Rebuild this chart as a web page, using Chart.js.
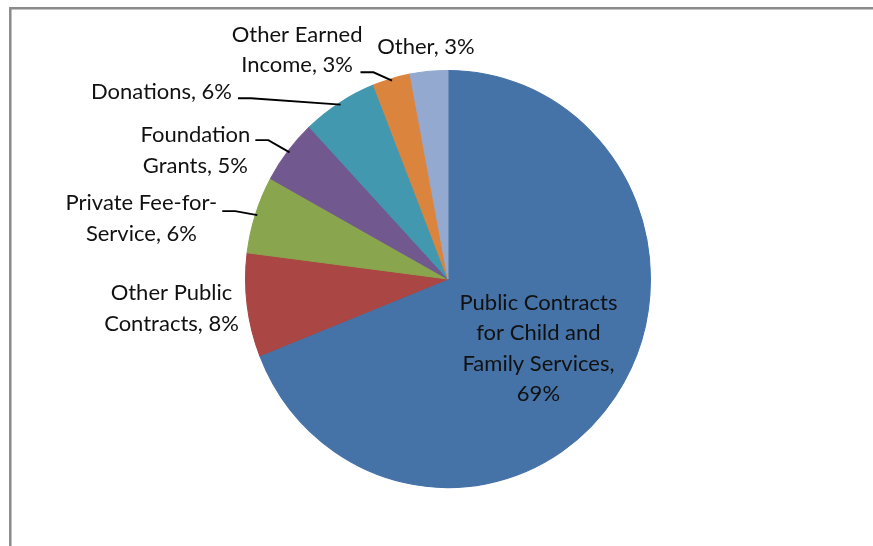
<!DOCTYPE html>
<html>
<head>
<meta charset="utf-8">
<script src="https://cdn.jsdelivr.net/npm/chart.js@4"></script>
<style>
  html, body { margin: 0; padding: 0; background: #fff; }
  #wrap { position: relative; width: 873px; height: 546px; }
</style>
</head>
<body>
<div id="wrap"><canvas id="fundingChart" width="873" height="546"></canvas></div>
<script>
// Funding sources, clockwise from 12 o'clock
const categories = [
  'Public Contracts for Child and Family Services',
  'Other Public Contracts',
  'Private Fee-for-Service',
  'Foundation Grants',
  'Donations',
  'Other Earned Income',
  'Other'
];
const shares = [69, 8, 6, 5, 6, 3, 3];
const sliceColors = ['#4572A7', '#AA4643', '#89A54E', '#71588F', '#4198AF', '#DB843D', '#93A9CF'];

// where each data label sits, relative to the slice's outer edge (or inside it)
const labelPlacement = [
  { inside: true, r: 0.54, dx: 0, dy: 6, wrap: 180 },
  { dx: -75.6, dy: 3.4, wrap: 150 },
  { dx: -114, dy: 4, wrap: 178, leader: -3.4, gap: 5 },
  { dx: -92.6, dy: -1, wrap: 130, leader: -11, gap: 5 },
  { dx: -178, dy: -10.6, wrap: 300, leader: -4.6, gap: 6 },
  { dx: -94.4, dy: -29, wrap: 150, leader: -6.4, gap: -2 }
  ,
  { dx: -3, dy: -24, wrap: 300 }
];

const FONT = '22px Lato';
const LINE_H = 30.5;
const TEXT_COLOR = '#111';
const Y_STRETCH = 1.03; // pie is drawn very slightly taller than wide

function wrapText(ctx, text, maxWidth) {
  const pieces = [];
  text.split(' ').forEach(word => {
    word.split(/(?<=-)/).forEach((part, k) => pieces.push({ part, glue: k === 0 ? ' ' : '' }));
  });
  const lines = [];
  let line = '';
  pieces.forEach(({ part, glue }) => {
    const trial = line ? line + glue + part : part;
    if (line && ctx.measureText(trial).width > maxWidth) {
      lines.push(line);
      line = part;
    } else {
      line = trial;
    }
  });
  lines.push(line);
  return lines;
}

const frame = {
  id: 'frame',
  beforeDraw(chart) {
    const ctx = chart.ctx;
    ctx.save();
    ctx.strokeStyle = '#8a8a8a';
    ctx.lineWidth = 2.5;
    ctx.beginPath();
    ctx.moveTo(10.3, 600);
    ctx.lineTo(10.3, 8.2);
    ctx.lineTo(900, 8.2);
    ctx.stroke();
    ctx.restore();
  }
};

const stretch = {
  id: 'stretch',
  beforeDatasetsDraw(chart) {
    const arc = chart.getDatasetMeta(0).data[0];
    const ctx = chart.ctx;
    ctx.save();
    ctx.translate(arc.x, arc.y);
    ctx.scale(1, Y_STRETCH);
    ctx.translate(-arc.x, -arc.y);
  },
  afterDatasetsDraw(chart) {
    chart.ctx.restore();
  }
};

const sliceLabels = {
  id: 'sliceLabels',
  afterDatasetsDraw(chart) {
    const ctx = chart.ctx;
    const arcs = chart.getDatasetMeta(0).data;
    ctx.save();
    ctx.font = FONT;
    ctx.fillStyle = TEXT_COLOR;
    ctx.strokeStyle = '#000';
    ctx.lineWidth = 1.9;
    ctx.textAlign = 'center';
    ctx.textBaseline = 'middle';
    arcs.forEach((arc, i) => {
      const p = arc.getProps(['x', 'y', 'startAngle', 'endAngle', 'outerRadius']);
      const mid = (p.startAngle + p.endAngle) / 2;
      const cos = Math.cos(mid), sin = Math.sin(mid);
      const place = labelPlacement[i];
      const lines = wrapText(ctx, categories[i] + ', ' + shares[i] + '%', place.wrap);
      let cx, cy;
      if (place.inside) {
        cx = p.x + cos * p.outerRadius * place.r + place.dx;
        cy = p.y + sin * p.outerRadius * place.r * Y_STRETCH + place.dy;
      } else {
        const ex = p.x + cos * p.outerRadius;
        const ey = p.y + sin * p.outerRadius * Y_STRETCH;
        cx = ex + place.dx;
        cy = ey + place.dy;
        if (place.leader !== undefined) {
          const w = Math.max(...lines.map(l => ctx.measureText(l).width));
          const sx = cx + w / 2 + place.gap, sy = ey + place.leader;
          ctx.beginPath();
          ctx.moveTo(sx, sy);
          ctx.lineTo(sx + 13, sy);
          ctx.lineTo(ex - cos * 2, ey - sin * 2);
          ctx.stroke();
        }
      }
      const top = cy - (lines.length - 1) * LINE_H / 2;
      lines.forEach((l, k) => ctx.fillText(l, cx, top + k * LINE_H));
    });
    ctx.restore();
  }
};

function draw() {
  const ctx = document.getElementById('fundingChart').getContext('2d');
  new Chart(ctx, {
    type: 'pie',
    data: {
      labels: categories,
      datasets: [{
        data: shares,
        backgroundColor: sliceColors,
        borderColor: sliceColors,
        borderWidth: 1
      }]
    },
    options: {
      responsive: false,
      animation: false,
      layout: { padding: { top: 76, bottom: 64, left: 23, right: 0 } },
      plugins: {
        legend: { display: false },
        tooltip: { enabled: false }
      }
    },
    plugins: [frame, stretch, sliceLabels]
  });
}

document.fonts.load(FONT).then(draw, draw);
</script>
</body>
</html>
